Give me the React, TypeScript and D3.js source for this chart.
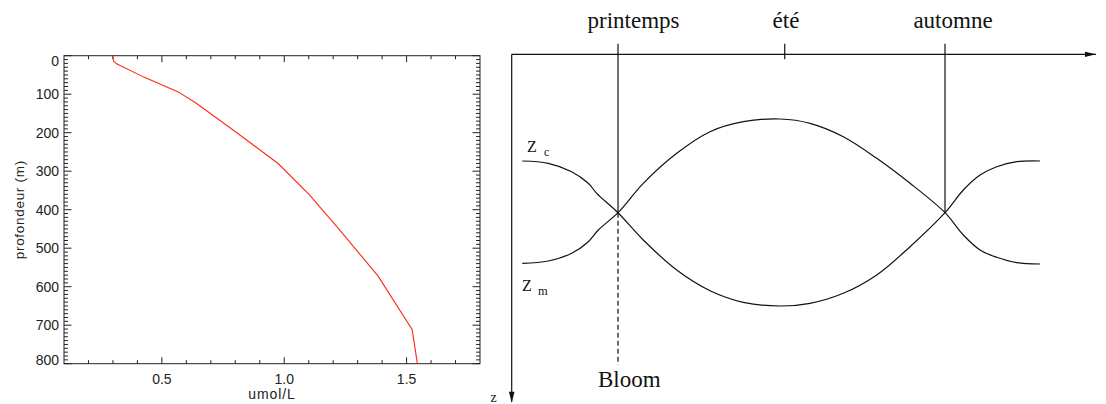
import React from "react";
import * as d3 from "d3";

// ---------- Left panel data: nutrient profile ----------
const depthM = [0, 14, 21, 55, 94, 124, 193, 280, 362, 453, 572, 712, 800];
const umolL = [0.297, 0.303, 0.315, 0.424, 0.567, 0.642, 0.791, 0.975, 1.104, 1.227, 1.383, 1.523, 1.544];
const xMajorTicks = [0.5, 1.0, 1.5];
const xTickLabels = ["0.5", "1.0", "1.5"];
const yMajorTicks = [0, 100, 200, 300, 400, 500, 600, 700, 800];

// ---------- Right panel data: schematic Zc / Zm over the year ----------
const seasons = ["printemps", "été", "automne"];
const seasonTime = [1.956, 5.023, 7.972];
const zcTime = [0.195, 0.673, 1.104, 1.409, 1.564, 1.956, 2.421, 3.036, 3.649, 4.261, 4.937, 5.489, 6.101, 6.716, 7.329, 7.972, 8.309, 8.616, 8.924, 9.292, 9.72];
const zcDepth = [53.35, 54.5, 58.7, 64.5, 69.5, 79.2, 92.85, 107.85, 118.2, 124.0, 125.85, 124.5, 119.5, 110.35, 96.2, 79.2, 67.85, 60.35, 56.2, 53.7, 53.35];
const zmTime = [0.195, 0.673, 1.104, 1.409, 1.593, 1.956, 2.421, 3.036, 3.649, 4.261, 4.937, 5.489, 6.101, 6.716, 7.329, 7.972, 8.309, 8.616, 8.924, 9.292, 9.72];
const zmDepth = [104.5, 103.35, 99.5, 93.7, 87.85, 79.2, 64.5, 49.5, 38.7, 33.7, 32.35, 34.5, 41.2, 52.0, 64.5, 79.2, 90.35, 97.85, 101.5, 104.2, 104.85];
const crossingDepth = 79.2;
const bloomDepth = 155.3;

const W = 1106;
const H = 404;

export default function App() {
  // left panel scales
  const x = d3.scaleLinear().domain([0.1, 1.8]).range([64, 480]);
  const y = d3.scaleLinear().domain([0, 800]).range([55.7, 363.7]);
  const [x0, x1] = x.range();
  const [y0, y1] = y.range();
  const xMinor = d3.range(2, 18).map((i) => i / 10).filter((v) => !xMajorTicks.some((m) => Math.abs(m - v) < 1e-6));
  const yMinor = d3.range(10, 800, 10).filter((v) => v % 100 !== 0);

  const profile = d3
    .line<number>()
    .x((_, i) => x(umolL[i]))
    .y((d) => y(d));

  // right panel scales
  const tx = d3.scaleLinear().domain([0, 10.75]).range([511.7, 1096]);
  const zy = d3.scaleLinear().domain([0, 175]).range([54.3, 404.3]);
  const ax = tx(0);
  const ay = zy(0);
  const zcPath = d3
    .line<number>()
    .curve(d3.curveCatmullRom.alpha(0.5))
    .x((d) => tx(d))
    .y((_, i) => zy(zcDepth[i]))(zcTime);
  const zmPath = d3
    .line<number>()
    .curve(d3.curveCatmullRom.alpha(0.5))
    .x((d) => tx(d))
    .y((_, i) => zy(zmDepth[i]))(zmTime);

  const labelDx = [15.5, 1.3, 8];
  const arrowX = tx(10.75);
  const arrowY = 401.7;

  const sans = "'Liberation Sans', Arial, sans-serif";
  const serif = "'Liberation Serif', 'Times New Roman', serif";
  const stroke = "#222";

  return (
    <svg width={W} height={H} style={{ position: "absolute", left: 0, top: 0, display: "block", background: "#fff" }}>
      {/* ---------------- Left panel ---------------- */}
      <g fill="none" stroke={stroke} strokeWidth={1}>
        <rect x={x0} y={y0} width={x1 - x0} height={y1 - y0} />
        {xMajorTicks.map((v) => (
          <g key={"xm" + v}>
            <line x1={x(v)} x2={x(v)} y1={y1} y2={y1 - 6.5} />
            <line x1={x(v)} x2={x(v)} y1={y0} y2={y0 + 6.5} />
          </g>
        ))}
        {xMinor.map((v) => (
          <g key={"xn" + v}>
            <line x1={x(v)} x2={x(v)} y1={y1} y2={y1 - 3.5} />
            <line x1={x(v)} x2={x(v)} y1={y0} y2={y0 + 3.5} />
          </g>
        ))}
        {yMajorTicks.map((v) => (
          <g key={"ym" + v}>
            <line x1={x0} x2={x0 + 7.5} y1={y(v)} y2={y(v)} />
            <line x1={x1} x2={x1 - 7.5} y1={y(v)} y2={y(v)} />
          </g>
        ))}
        {yMinor.map((v) => (
          <g key={"yn" + v}>
            <line x1={x0} x2={x0 + 4} y1={y(v)} y2={y(v)} />
            <line x1={x1} x2={x1 - 4} y1={y(v)} y2={y(v)} />
          </g>
        ))}
      </g>
      <path d={profile(depthM) || ""} fill="none" stroke="#ff2a10" strokeWidth={1.1} />
      <g fontFamily={sans} fontSize={14} fill="#222">
        {xMajorTicks.map((v, i) => (
          <text key={"xl" + v} x={x(v)} y={384} textAnchor="middle">
            {xTickLabels[i]}
          </text>
        ))}
        {yMajorTicks.map((v) => (
          <text
            key={"yl" + v}
            x={x0 - 5}
            y={Math.min(Math.max(y(v), y0 + 5.5), y1 - 3.7)}
            textAnchor="end"
            dominantBaseline="central"
          >
            {String(v)}
          </text>
        ))}
        <text x={(x0 + x1) / 2} y={399} textAnchor="middle" fontSize={14} letterSpacing={0.9}>
          umol/L
        </text>
        <text
          transform={`translate(24,${(y0 + y1) / 2}) rotate(-90)`}
          textAnchor="middle"
          fontSize={13.5}
          letterSpacing={0.7}
        >
          profondeur (m)
        </text>
      </g>

      {/* ---------------- Right panel ---------------- */}
      <g fill="none" stroke="#111" strokeWidth={1.2}>
        <line x1={ax} x2={arrowX} y1={ay} y2={ay} />
        <line x1={ax} x2={ax} y1={ay} y2={arrowY} />
        <line x1={tx(seasonTime[0])} x2={tx(seasonTime[0])} y1={zy(-5.3)} y2={zy(crossingDepth)} />
        <line
          x1={tx(seasonTime[0])}
          x2={tx(seasonTime[0])}
          y1={zy(crossingDepth)}
          y2={zy(bloomDepth)}
          strokeDasharray="5,3"
        />
        <line x1={tx(seasonTime[1])} x2={tx(seasonTime[1])} y1={zy(-5.3)} y2={zy(2.5)} />
        <line x1={tx(seasonTime[2])} x2={tx(seasonTime[2])} y1={zy(-5.3)} y2={zy(crossingDepth)} />
        <path d={zcPath || ""} />
        <path d={zmPath || ""} />
      </g>
      <path
        d={`M${arrowX},${ay} L${arrowX - 11},${ay - 2.6} L${arrowX - 11},${ay + 2.6} Z`}
        fill="#111"
      />
      <path
        d={`M${ax},${arrowY + 1} L${ax - 2.8},${arrowY - 10} L${ax + 2.8},${arrowY - 10} Z`}
        fill="#111"
      />
      <g fontFamily={serif} fill="#111">
        {seasons.map((s, i) => (
          <text key={s} x={tx(seasonTime[i]) + labelDx[i]} y={28.3} fontSize={23} textAnchor="middle">
            {s}
          </text>
        ))}
        <text x={tx(seasonTime[0]) + 11.3} y={386.7} fontSize={23} textAnchor="middle">
          Bloom
        </text>
        <text x={527} y={151.7} fontSize={16}>
          Z
        </text>
        <text x={544} y={155.5} fontSize={12}>
          c
        </text>
        <text x={522} y={290.5} fontSize={16}>
          Z
        </text>
        <text x={538} y={295} fontSize={12.5}>
          m
        </text>
        <text x={493.5} y={401.5} fontSize={14} textAnchor="middle">
          z
        </text>
      </g>
    </svg>
  );
}
